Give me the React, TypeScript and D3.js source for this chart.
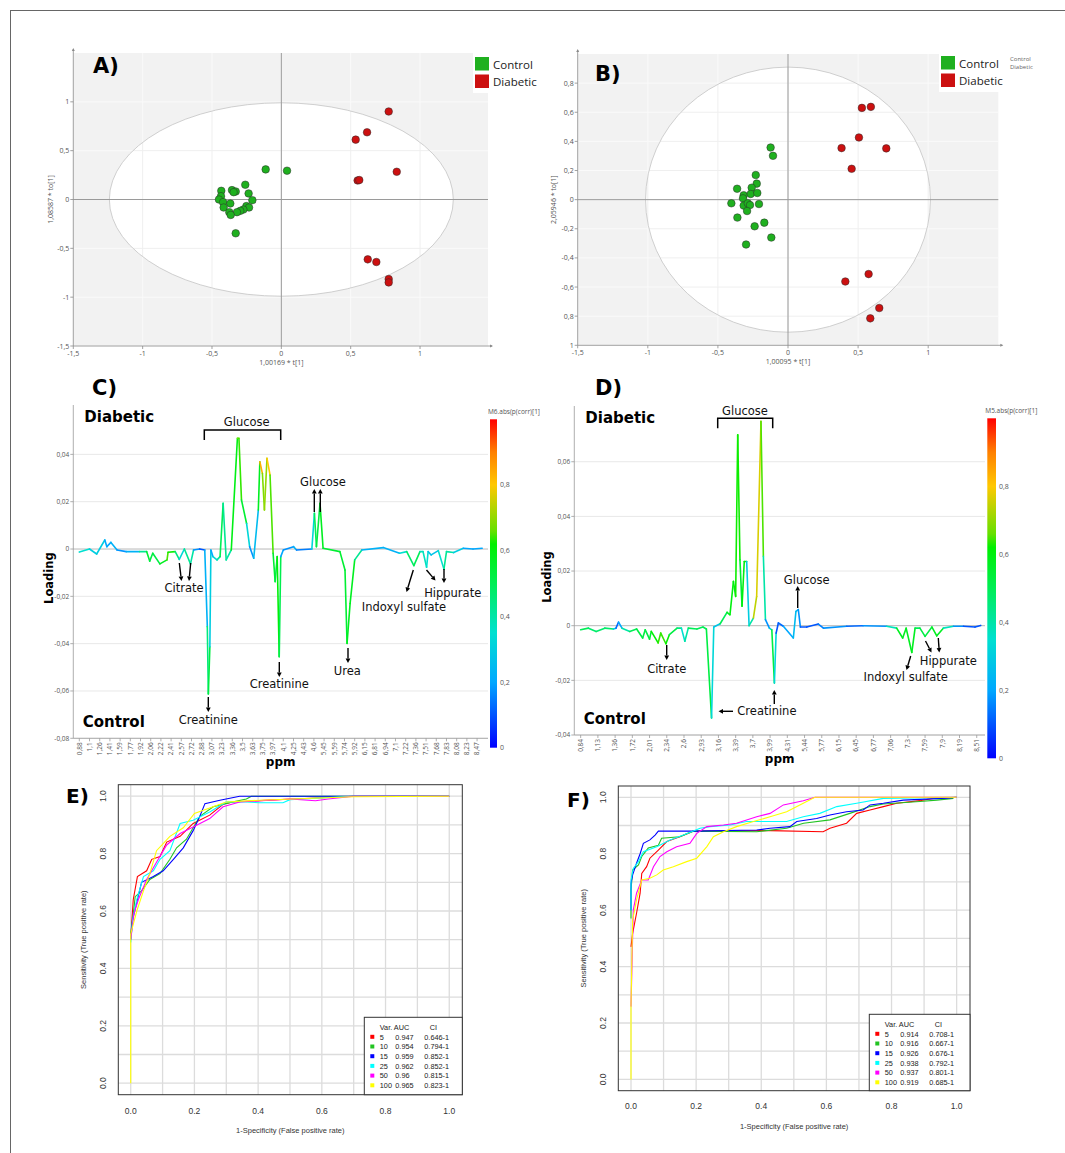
import * as d3 from "d3";

type P = [number, number];
type S = [number, number, number]; // variable index, loading, |p(corr)|

// ---------- data ----------
const groups = ["Control", "Diabetic"];
const groupColors = ["#1fb01f", "#cc1010"];

// OPLS-DA scores, panel A
const scoresA_control: P[] = [
  [-0.113, 0.308], [0.041, 0.295], [-0.26, 0.151], [-0.433, 0.089], [-0.356, 0.096], [-0.329, 0.082],
  [-0.344, 0.075], [-0.236, 0.062], [-0.435, 0.034], [-0.45, 0.0], [-0.209, -0.007], [-0.42, -0.027],
  [-0.368, -0.041], [-0.416, -0.082], [-0.252, -0.068], [-0.233, -0.082], [-0.274, -0.103],
  [-0.296, -0.116], [-0.32, -0.13], [-0.375, -0.13], [-0.365, -0.158], [-0.329, -0.346],
];
const scoresA_diabetic: P[] = [
  [0.774, 0.901], [0.618, 0.688], [0.536, 0.613], [0.832, 0.284], [0.55, 0.195], [0.562, 0.199],
  [0.623, -0.613], [0.685, -0.64], [0.774, -0.815], [0.774, -0.849],
];
// OPLS-DA scores, panel B
const scoresB_control: P[] = [
  [-0.124, 0.358], [-0.107, 0.301], [-0.23, 0.169], [-0.223, 0.11], [-0.363, 0.075], [-0.259, 0.082],
  [-0.316, 0.03], [-0.266, 0.039], [-0.219, 0.046], [-0.321, 0.009], [-0.404, -0.025], [-0.316, -0.041],
  [-0.287, -0.025], [-0.271, -0.037], [-0.207, -0.03], [-0.292, -0.078], [-0.361, -0.123],
  [-0.169, -0.158], [-0.238, -0.183], [-0.119, -0.26], [-0.299, -0.308],
];
const scoresB_diabetic: P[] = [
  [0.527, 0.63], [0.591, 0.637], [0.506, 0.427], [0.382, 0.354], [0.701, 0.352], [0.454, 0.212],
  [0.575, -0.511], [0.409, -0.562], [0.651, -0.744], [0.587, -0.815],
];
const xTicksScore = [-1.5, -1, -0.5, 0, 0.5, 1];
const xTickLabelsScore = ["-1,5", "-1", "-0,5", "0", "0,5", "1"];
const yTicksA = [1, 0.5, 0, -0.5, -1, -1.5];
const yTickLabelsA = ["1", "0,5", "0", "-0,5", "-1", "-1,5"];
const yTicksB = [0.8, 0.6, 0.4, 0.2, 0, -0.2, -0.4, -0.6, -0.8, -1];
const yTickLabelsB = ["0,8", "0,6", "0,4", "0,2", "0", "-0,2", "-0,4", "-0,6", "0,8", "1"];

// loading line plots
const ppmLabelsC = ["0,88", "1,1", "1,26", "1,41", "1,59", "1,77", "1,92", "2,06", "2,22", "2,41", "2,57", "2,72",
  "2,88", "3,07", "3,23", "3,36", "3,5", "3,63", "3,75", "3,97", "4,1", "4,25", "4,43", "4,6", "5,45", "5,59",
  "5,74", "5,92", "6,15", "6,81", "6,94", "7,1", "7,22", "7,36", "7,51", "7,68", "7,83", "8,08", "8,23", "8,47"];
const ppmLabelsD = ["0,84", "1,13", "1,36", "1,72", "2,01", "2,34", "2,6", "2,93", "3,16", "3,39", "3,7", "3,99",
  "4,31", "5,44", "5,77", "6,15", "6,45", "6,77", "7,06", "7,3", "7,59", "7,9", "8,19", "8,51"];
const loadTicksC = [0.04, 0.02, 0, -0.02, -0.04, -0.06, -0.08];
const loadTicksD = [0.06, 0.04, 0.02, 0, -0.02, -0.04];
const corrTicks = [0, 0.2, 0.4, 0.6, 0.8];

const loadingC: S[] = [
  [0, -0.0013, 0.45], [10, 0, 0.25], [17, -0.0021, 0.35], [25, 0.0038, 0.25], [27, 0.001, 0.15], [31, 0.0028, 0.25],
  [37, -0.0004, 0.2], [46, -0.0011, 0.15], [59, -0.0011, 0.3], [66, -0.0011, 0.55], [69, -0.0051, 0.55],
  [72, -0.0018, 0.5], [79, -0.0063, 0.55], [86, -0.0046, 0.6], [87, -0.0014, 0.7], [94, -0.0011, 0.55],
  [98, -0.0044, 0.35], [103, 0, 0.3], [109, -0.0063, 0.55], [112, -0.0004, 0.25], [118, 0, 0.1],
  [123, -0.0004, 0.1], [125.5, -0.0328, 0.35], [126.5, -0.0613, 0.55], [128, -0.0413, 0.5], [129, -0.0004, 0.1],
  [131, -0.0032, 0.3], [135, -0.0046, 0.35], [138, -0.0032, 0.45], [141, 0.0193, 0.55], [144, -0.0046, 0.3],
  [149, -0.0004, 0.5], [155, 0.0468, 0.68], [156.5, 0.0468, 0.68], [159, 0.0207, 0.6], [164, 0.0108, 0.5],
  [167, 0.001, 0.15], [171, -0.0039, 0.2], [175.5, 0.0165, 0.3], [177, 0.0369, 0.85], [179.5, 0.032, 0.82],
  [181.5, 0.0165, 0.55], [184, 0.0383, 0.85], [187, 0.0313, 0.75], [190, -0.0018, 0.55], [192, -0.0138, 0.55],
  [194, -0.0032, 0.5], [196, -0.0455, 0.72], [197.5, -0.0032, 0.3], [200, -0.0004, 0.1], [210, 0.001, 0.25],
  [213, -0.0004, 0.2], [228, 0, 0.1], [230.5, 0.0151, 0.55], [232.5, 0.001, 0.45], [236, 0.0193, 0.6],
  [239, 0.0003, 0.55], [255.5, -0.0011, 0.55], [260.5, -0.0089, 0.55], [262.5, -0.0399, 0.55],
  [265.5, -0.023, 0.6], [270, -0.0046, 0.55], [277, -0.0004, 0.3], [298, 0.0006, 0.15], [314, -0.0018, 0.3],
  [321, -0.0011, 0.4], [328, -0.007, 0.55], [334, -0.0011, 0.45], [337, -0.0011, 0.3], [340.5, -0.0077, 0.45],
  [342, -0.0011, 0.25], [345, -0.0025, 0.3], [352, -0.0007, 0.25], [357.5, -0.0085, 0.45], [360, -0.0011, 0.4],
  [367, -0.0015, 0.4], [376.5, 0.0003, 0.2], [386, 0, 0.2], [395, 0.0003, 0.2],
];
const loadingD: S[] = [
  [0, -0.0015, 0.5], [4.5, -0.0009, 0.5], [9, -0.0021, 0.45], [14, -0.0009, 0.5], [19, -0.0012, 0.45],
  [20.5, -0.0009, 0.15], [22, 0.0013, 0.1], [24, -0.0009, 0.3], [28.5, -0.0021, 0.5], [32.5, -0.0012, 0.5],
  [36, -0.0045, 0.55], [37.5, -0.0015, 0.5], [40, -0.0049, 0.55], [41, -0.0021, 0.55], [45, -0.0063, 0.68],
  [46.5, -0.0027, 0.6], [49.5, -0.0066, 0.68], [51.5, -0.0033, 0.55], [56, -0.0009, 0.5], [58.5, -0.0009, 0.4],
  [60.5, -0.0057, 0.3], [62.5, -0.0009, 0.5], [67.5, -0.0012, 0.5], [71, -0.0005, 0.5], [73, -0.0012, 0.5],
  [76, -0.0338, 0.55], [77.3, -0.0005, 0.1], [81, 0.0007, 0.45], [85, 0.0049, 0.55], [86.7, 0.004, 0.6],
  [88.7, 0.0162, 0.6], [90, 0.0107, 0.6], [91.2, 0.0699, 0.65], [92.5, 0.0241, 0.6], [93.7, 0.0071, 0.5],
  [95, 0.0235, 0.7], [96.4, 0.0235, 0.5], [97.8, 0, 0.1], [100.3, 0.0028, 0.7], [102.2, 0.0107, 0.78],
  [104.7, 0.0748, 0.75], [106.1, 0.0254, 0.55], [107.3, 0.0022, 0.25], [109.6, -0.0009, 0.1],
  [111, -0.0015, 0.5], [112.5, -0.021, 0.55], [113.5, -0.0027, 0.1], [114.8, 0.001, 0.1], [117.7, -0.0002, 0.15],
  [123.5, -0.0045, 0.25], [125, 0.0052, 0.25], [126.4, 0.0059, 0.25], [127.6, -0.0005, 0.1], [131.3, -0.0005, 0.1],
  [138, 0.0006, 0.1], [141, -0.0009, 0.2], [154.5, -0.0002, 0.15], [164, 0, 0.1], [177.7, -0.0002, 0.25],
  [183.5, -0.0009, 0.5], [187, -0.0045, 0.65], [189, -0.0009, 0.5], [192.3, -0.0098, 0.65], [194.2, -0.0009, 0.5],
  [197, -0.0009, 0.5], [200, -0.0039, 0.55], [204, -0.0005, 0.5], [206.8, -0.0037, 0.65], [210.6, -0.0009, 0.5],
  [216.5, -0.0002, 0.25], [222.3, -0.0002, 0.1], [229, -0.0005, 0.1], [232.3, 0.0001, 0.1],
];

// ROC curves (the shared vertical start at fpr 0 is drawn by the last, yellow curve)
const rocVars = ["5", "10", "15", "25", "50", "100"];
const rocColors = ["#ff0000", "#22c322", "#0000ff", "#00ffff", "#ff00ff", "#ffff00"];
const rocTicks = [0, 0.2, 0.4, 0.6, 0.8, 1];
const gridTicks = [0, 0.1, 0.2, 0.3, 0.4, 0.5, 0.6, 0.7, 0.8, 0.9, 1];
const aucE = ["0.947", "0.954", "0.959", "0.962", "0.96", "0.965"];
const ciE = ["0.646-1", "0.794-1", "0.852-1", "0.852-1", "0.815-1", "0.823-1"];
const aucF = ["0.914", "0.916", "0.926", "0.938", "0.937", "0.919"];
const ciF = ["0.708-1", "0.667-1", "0.676-1", "0.792-1", "0.801-1", "0.685-1"];

const rocE5: P[] = [[0, 0.5], [0.003, 0.557], [0.008, 0.64], [0.021, 0.72], [0.05, 0.74], [0.066, 0.78], [0.092, 0.79], [0.113, 0.84], [0.155, 0.86], [0.196, 0.905], [0.248, 0.934], [0.29, 0.972], [0.32, 0.98], [0.51, 0.99], [0.7, 1], [1, 1]];
const rocE10: P[] = [[0, 0.52], [0.008, 0.59], [0.014, 0.65], [0.034, 0.67], [0.06, 0.71], [0.092, 0.73], [0.123, 0.78], [0.144, 0.82], [0.175, 0.85], [0.196, 0.89], [0.217, 0.93], [0.259, 0.963], [0.3, 0.975], [0.363, 0.99], [0.379, 1], [1, 1]];
const rocE15: P[] = [[0, 0.5], [0.006, 0.57], [0.019, 0.63], [0.034, 0.7], [0.071, 0.72], [0.102, 0.74], [0.134, 0.78], [0.165, 0.82], [0.196, 0.88], [0.217, 0.93], [0.233, 0.974], [0.28, 0.986], [0.342, 1], [1, 1]];
const rocE25: P[] = [[0, 0.49], [0.006, 0.57], [0.019, 0.64], [0.04, 0.72], [0.071, 0.74], [0.092, 0.78], [0.123, 0.81], [0.155, 0.905], [0.196, 0.916], [0.248, 0.945], [0.3, 0.98], [0.36, 0.98], [0.405, 0.977], [0.478, 0.977], [0.5, 0.988], [0.7, 1], [1, 1]];
const rocE50: P[] = [[0, 0.5], [0.01, 0.59], [0.024, 0.64], [0.05, 0.71], [0.081, 0.77], [0.113, 0.83], [0.155, 0.87], [0.196, 0.893], [0.248, 0.922], [0.29, 0.963], [0.342, 0.98], [0.5, 0.99], [0.58, 0.984], [0.62, 0.99], [0.7, 1], [1, 1]];
const rocE100: P[] = [[0, 0], [0, 0.52], [0.019, 0.6], [0.04, 0.67], [0.06, 0.73], [0.081, 0.81], [0.123, 0.86], [0.165, 0.89], [0.2, 0.94], [0.25, 0.96], [0.3, 0.98], [0.405, 0.986], [0.7, 0.998], [1, 1]];

const rocF5: P[] = [[0, 0.47], [0.005, 0.518], [0.017, 0.589], [0.028, 0.66], [0.033, 0.73], [0.048, 0.754], [0.058, 0.784], [0.084, 0.813], [0.11, 0.843], [0.15, 0.86], [0.191, 0.88], [0.427, 0.882], [0.59, 0.878], [0.611, 0.89], [0.662, 0.908], [0.693, 0.943], [0.734, 0.955], [0.775, 0.967], [0.816, 0.979], [0.887, 0.988], [0.928, 0.996], [1, 1]];
const rocF10: P[] = [[0, 0.57], [0, 0.67], [0.005, 0.742], [0.023, 0.76], [0.033, 0.79], [0.053, 0.82], [0.084, 0.83], [0.094, 0.855], [0.15, 0.86], [0.191, 0.88], [0.386, 0.878], [0.478, 0.89], [0.53, 0.908], [0.611, 0.92], [0.672, 0.943], [0.734, 0.967], [0.775, 0.976], [0.887, 0.985], [0.939, 0.99], [0.99, 0.996]];
const rocF15: P[] = [[0, 0.6], [0, 0.695], [0.005, 0.725], [0.017, 0.766], [0.028, 0.8], [0.038, 0.837], [0.058, 0.849], [0.074, 0.866], [0.084, 0.88], [0.2, 0.88], [0.386, 0.884], [0.427, 0.89], [0.488, 0.896], [0.509, 0.914], [0.57, 0.925], [0.611, 0.937], [0.662, 0.949], [0.713, 0.955], [0.734, 0.973], [0.775, 0.979], [0.836, 0.99], [0.97, 0.997], [1, 1]];
const rocF25: P[] = [[0, 0.6], [0, 0.707], [0.007, 0.748], [0.023, 0.772], [0.038, 0.807], [0.079, 0.825], [0.12, 0.849], [0.161, 0.866], [0.212, 0.89], [0.243, 0.896], [0.304, 0.902], [0.355, 0.914], [0.478, 0.914], [0.529, 0.931], [0.58, 0.943], [0.632, 0.967], [0.693, 0.979], [0.775, 0.996], [1, 1]];
const rocF50: P[] = [[0, 0.258], [0.002, 0.352], [0.007, 0.6], [0.017, 0.66], [0.033, 0.707], [0.053, 0.707], [0.069, 0.754], [0.089, 0.79], [0.11, 0.807], [0.14, 0.825], [0.181, 0.837], [0.202, 0.872], [0.233, 0.896], [0.284, 0.902], [0.324, 0.908], [0.386, 0.931], [0.427, 0.943], [0.468, 0.973], [0.529, 0.988], [0.565, 1], [1, 1]];
const rocF100: P[] = [[0, 0], [0, 0.26], [0.005, 0.565], [0.017, 0.636], [0.033, 0.707], [0.058, 0.713], [0.079, 0.725], [0.099, 0.742], [0.13, 0.754], [0.171, 0.772], [0.202, 0.784], [0.233, 0.825], [0.253, 0.86], [0.284, 0.878], [0.324, 0.896], [0.376, 0.914], [0.427, 0.931], [0.478, 0.949], [0.529, 0.979], [0.565, 1], [1, 1]];

// ---------- styling helpers ----------
const verdana = "'DejaVu Sans', Verdana, sans-serif";
const segoe = "'Open Sans', 'Noto Sans', sans-serif";
const arial = "'Liberation Sans', Arial, sans-serif";

const corrStops = [0, 0.2, 0.35, 0.5, 0.62, 0.66, 0.8, 0.9, 1];
const corrStopColors = ["#0000ff", "#00a8ff", "#00e0d0", "#00ee55", "#00f000", "#66e000", "#ffc800", "#ff8000", "#ff0000"];
const corrColor = d3.scaleLinear<string>().domain(corrStops).range(corrStopColors).clamp(true);

// ---------- score plots ----------
function ScorePlot(props: any) {
  const { id, box, xDomain, yDomain, yTicks, yLabels, ell, control, diabetic, xTitle, yTitle, yTitleX, label, labelXY, legend } = props;
  const x = d3.scaleLinear().domain(xDomain).range([box.left, box.right]);
  const y = d3.scaleLinear().domain(yDomain).range([box.bottom, box.top]);
  const cx = x(0), cy = y(0);
  const rx = x(ell[0]) - x(0), ry = y(0) - y(ell[1]);
  const grid = (stroke: string) => (
    <g stroke={stroke} strokeWidth={1}>
      {xTicksScore.map((t) => <line key={"x" + t} x1={x(t)} x2={x(t)} y1={box.top} y2={box.bottom} />)}
      {yTicks.map((t: number) => <line key={"y" + t} x1={box.left} x2={box.right} y1={y(t)} y2={y(t)} />)}
    </g>
  );
  return (
    <g>
      <defs>
        <clipPath id={id + "-ell"}><ellipse cx={cx} cy={cy} rx={rx} ry={ry} /></clipPath>
      </defs>
      <rect x={box.left} y={box.top} width={box.right - box.left} height={box.bottom - box.top} fill="#f2f2f2" />
      {grid("#fafafa")}
      <ellipse cx={cx} cy={cy} rx={rx} ry={ry} fill="#ffffff" />
      <g clipPath={`url(#${id}-ell)`}>{grid("#efefef")}</g>
      <ellipse cx={cx} cy={cy} rx={rx} ry={ry} fill="none" stroke="#c4c4c4" strokeWidth={0.8} />
      {/* zero lines */}
      <line x1={cx} x2={cx} y1={box.top} y2={box.bottom} stroke="#9a9a9a" strokeWidth={1} />
      <line x1={box.left} x2={box.right} y1={cy} y2={cy} stroke="#9a9a9a" strokeWidth={1} />
      {/* axes */}
      <g stroke="#8a8a8a" strokeWidth={0.8}>
        <line x1={box.left} x2={box.left} y1={box.top - 4} y2={box.bottom} />
        <line x1={box.left} x2={box.right + 4} y1={box.bottom} y2={box.bottom} />
        {yTicks.map((t: number) => <line key={t} x1={box.left - 3} x2={box.left} y1={y(t)} y2={y(t)} />)}
        {xTicksScore.map((t) => <line key={t} x1={x(t)} x2={x(t)} y1={box.bottom} y2={box.bottom + 3} />)}
      </g>
      <path d={`M${box.left - 1.5},${box.top - 2} L${box.left},${box.top - 5} L${box.left + 1.5},${box.top - 2}Z`} fill="#8a8a8a" />
      <path d={`M${box.right + 2},${box.bottom - 1.5} L${box.right + 5},${box.bottom} L${box.right + 2},${box.bottom + 1.5}Z`} fill="#8a8a8a" />
      <g fontFamily={segoe} fontSize={7} fill="#555">
        {yTicks.map((t: number, i: number) => (
          <text key={t} x={box.left - 4} y={y(t) + 2.5} textAnchor="end">{yLabels[i]}</text>
        ))}
        {xTicksScore.map((t, i) => (
          <text key={t} x={x(t)} y={box.bottom + 10} textAnchor="middle">{xTickLabelsScore[i]}</text>
        ))}
        <text x={cx} y={box.bottom + 19} textAnchor="middle">{xTitle}</text>
        <text transform={`translate(${yTitleX},${cy}) rotate(-90)`} textAnchor="middle">{yTitle}</text>
      </g>
      {/* points */}
      {[control, diabetic].map((pts: P[], g: number) => (
        <g key={g}>
          {pts.map((p, i) => (
            <circle key={i} cx={x(p[0])} cy={y(p[1])} r={3.8} fill={groupColors[g]} stroke="#2a2a2a" strokeWidth={0.5} />
          ))}
        </g>
      ))}
      {/* legend */}
      <rect x={legend.x - 2} y={legend.y - 4} width={legend.w} height={40} fill="#ffffff" />
      {groups.map((gname, g) => (
        <g key={gname}>
          <rect x={legend.x} y={legend.y + g * 17.5} width={14} height={13.5} fill={groupColors[g]} />
          <text x={legend.x + 18} y={legend.y + 11.5 + g * 17.5} fontFamily={segoe} fontSize={11.5} fill="#222">{gname}</text>
        </g>
      ))}
      <text x={labelXY[0]} y={labelXY[1]} fontFamily={verdana} fontWeight="bold" fontSize={21} fill="#000">{label}</text>
    </g>
  );
}

// ---------- loading plots ----------
function LoadingPlot(props: any) {
  const { id, box, xDomain, yDomain, yTicks, ppmLabels, data, cb, cbTitle, label, labelXY, loadingX, children } = props;
  const x = d3.scaleLinear().domain(xDomain).range([box.left, box.right]);
  const y = d3.scaleLinear().domain(yDomain).range([box.bottom, box.top]);
  const c = d3.scaleLinear().domain([0, 1]).range([cb.bottom, cb.top]);
  const fmt = (v: number) => String(+v.toFixed(3)).replace(".", ",");
  const segs = d3.pairs(data as S[]);
  return (
    <g>
      <defs>
        <linearGradient id={id + "-grad"} x1="0" y1="1" x2="0" y2="0">
          {corrStops.map((s, i) => <stop key={i} offset={s} stopColor={corrStopColors[i]} />)}
        </linearGradient>
      </defs>
      <g strokeWidth={1}>
        {yTicks.map((t: number) => <line key={t} x1={box.left} x2={box.right} y1={y(t)} y2={y(t)} stroke={t === 0 ? "#b8b8b8" : "#e8e8e8"} />)}
      </g>
      <g stroke="#9a9a9a" strokeWidth={0.8}>
        <line x1={box.left} x2={box.left} y1={box.top - 3} y2={box.bottom} />
        <line x1={box.left} x2={box.right} y1={box.bottom} y2={box.bottom} />
        {yTicks.map((t: number) => <line key={t} x1={box.left - 3} x2={box.left} y1={y(t)} y2={y(t)} />)}
        {ppmLabels.map((_: string, i: number) => <line key={i} x1={x(i * 10)} x2={x(i * 10)} y1={box.bottom} y2={box.bottom + 3} />)}
      </g>
      <g fontFamily={segoe} fontSize={6.5} fill="#555">
        {yTicks.map((t: number) => <text key={t} x={box.left - 4} y={y(t) + 2.3} textAnchor="end">{fmt(t)}</text>)}
        {ppmLabels.map((s: string, i: number) => (
          <text key={i} transform={`translate(${x(i * 10) + 2.3},${box.bottom + 4}) rotate(-90)`} textAnchor="end">{s}</text>
        ))}
      </g>
      {segs.map(([a, b], i) => (
        <line key={i} x1={x(a[0])} y1={y(a[1])} x2={x(b[0])} y2={y(b[1])}
          stroke={corrColor((a[2] + b[2]) / 2)} strokeWidth={1.6} strokeLinecap="round" />
      ))}
      {/* colour bar */}
      <rect x={cb.x} y={cb.top} width={cb.w} height={cb.bottom - cb.top} fill={`url(#${id}-grad)`} />
      <g fontFamily={segoe} fontSize={7} fill="#555">
        {corrTicks.map((t) => <text key={t} x={cb.x + cb.w + 3} y={c(t) + 2.5}>{fmt(t)}</text>)}
        <text x={cb.x - 2} y={cb.top - 5} fontSize={6.5}>{cbTitle}</text>
      </g>
      <text x={labelXY[0]} y={labelXY[1]} fontFamily={verdana} fontWeight="bold" fontSize={21}>{label}</text>
      <g fontFamily={verdana} fontWeight="bold" fill="#000">
        <text x={box.left + 11} y={box.top + 14} fontSize={15}>Diabetic</text>
        <text x={box.left + 9.5} y={box.bottom - 11} fontSize={15}>Control</text>
        <text x={(box.left + box.right) / 2} y={box.bottom + 28} fontSize={12} textAnchor="middle">ppm</text>
        <text transform={`translate(${loadingX},${(box.top + box.bottom) / 2 + 5}) rotate(-90)`} fontSize={11.5} textAnchor="middle">Loading</text>
      </g>
      <g fontFamily={verdana} fontSize={11.5} fill="#111" stroke="none">{children}</g>
    </g>
  );
}

function Arrow({ x1, y1, x2, y2 }: { x1: number; y1: number; x2: number; y2: number }) {
  const ang = Math.atan2(y2 - y1, x2 - x1);
  const L = 4.5, W = 2.4;
  const bx = x2 - L * Math.cos(ang), by = y2 - L * Math.sin(ang);
  const px = -Math.sin(ang) * W, py = Math.cos(ang) * W;
  return (
    <g>
      <line x1={x1} y1={y1} x2={bx} y2={by} stroke="#000" strokeWidth={1.4} />
      <path d={`M${x2},${y2} L${bx + px},${by + py} L${bx - px},${by - py}Z`} fill="#000" />
    </g>
  );
}

function Bracket({ x1, x2, y, h }: { x1: number; x2: number; y: number; h: number }) {
  return <path d={`M${x1},${y + h} V${y} H${x2} V${y + h}`} fill="none" stroke="#000" strokeWidth={1.5} />;
}

// ---------- ROC plots ----------
function RocPlot(props: any) {
  const { box, curves, auc, ci, label, labelXY, yLabX, yTitleX, xLabY, xTitleY, legendBox } = props;
  const x = d3.scaleLinear().domain([-0.039, 1.041]).range([box.left, box.right]);
  const y = d3.scaleLinear().domain([-0.04, 1.04]).range([box.bottom, box.top]);
  const line = d3.line<P>().x((d) => x(d[0])).y((d) => y(d[1]));
  const lb = legendBox;
  return (
    <g>
      <g stroke="#dcdcdc" strokeWidth={1.3}>
        {gridTicks.map((t) => <line key={"v" + t} x1={x(t)} x2={x(t)} y1={box.top} y2={box.bottom} />)}
        {gridTicks.map((t) => <line key={"h" + t} x1={box.left} x2={box.right} y1={y(t)} y2={y(t)} />)}
      </g>
      {curves.map((cv: P[], i: number) => (
        <path key={i} d={line(cv) || ""} fill="none" stroke={rocColors[i]} strokeWidth={1.1} />
      ))}
      <rect x={box.left} y={box.top} width={box.right - box.left} height={box.bottom - box.top} fill="none" stroke="#333" strokeWidth={1} />
      <g fontFamily={arial} fontSize={8.5} fill="#333">
        {rocTicks.map((t) => <text key={t} x={x(t)} y={xLabY} textAnchor="middle">{t.toFixed(1)}</text>)}
        {rocTicks.map((t) => (
          <text key={"y" + t} transform={`translate(${yLabX},${y(t)}) rotate(-90)`} textAnchor="middle">{t.toFixed(1)}</text>
        ))}
      </g>
      <g fontFamily={arial} fontSize={7.5} fill="#333">
        <text x={(box.left + box.right) / 2} y={xTitleY} textAnchor="middle">1-Specificity (False positive rate)</text>
        <text transform={`translate(${yTitleX},${(y(0) + y(1)) / 2}) rotate(-90)`} textAnchor="middle">Sensitivity (True positive rate)</text>
      </g>
      {/* legend */}
      <rect x={lb.x} y={lb.y} width={box.right - lb.x} height={box.bottom - lb.y} fill="#fff" stroke="#333" strokeWidth={1} />
      <g fontFamily={arial} fontSize={7.3} fill="#222">
        <text x={lb.x + 15.5} y={lb.y + 12.5}>Var. AUC</text>
        <text x={lb.x + 65.5} y={lb.y + 12.5}>CI</text>
        {rocVars.map((v, i) => (
          <g key={v}>
            <rect x={lb.x + 6} y={lb.y + 17.5 + i * 9.7} width={4} height={4} fill={rocColors[i]} />
            <text x={lb.x + 15.5} y={lb.y + 22.2 + i * 9.7}>{v}</text>
            <text x={lb.x + 31} y={lb.y + 22.2 + i * 9.7}>{auc[i]}</text>
            <text x={lb.x + 60} y={lb.y + 22.2 + i * 9.7}>{ci[i]}</text>
          </g>
        ))}
      </g>
      <text x={labelXY[0]} y={labelXY[1]} fontFamily={verdana} fontWeight="bold" fontSize={20}>{label}</text>
    </g>
  );
}

export default function App() {
  return (
    <div style={{ position: "absolute", left: 0, top: 0 }}>
      <svg width={1065} height={1153} style={{ display: "block", background: "#fff" }}>
        <rect x={10.5} y={10.5} width={1070} height={1160} fill="none" stroke="#666" strokeWidth={1} />

        <ScorePlot id="A" box={{ left: 73.3, right: 488, top: 53, bottom: 346 }} xDomain={[-1.5, 1.49]} yDomain={[-1.5, 1.5]}
          yTicks={yTicksA} yLabels={yTickLabelsA} ell={[1.24, 0.99]} control={scoresA_control} diabetic={scoresA_diabetic}
          xTitle="1,00169 * t[1]" yTitle="1,08587 * to[1]" yTitleX={53} label="A)" labelXY={[93, 73]}
          legend={{ x: 475, y: 57, w: 66 }} />
        <ScorePlot id="B" box={{ left: 577.7, right: 998.3, top: 54, bottom: 345.3 }} xDomain={[-1.5, 1.5]} yDomain={[-1, 1]}
          yTicks={yTicksB} yLabels={yTickLabelsB} ell={[1.016, 0.91]} control={scoresB_control} diabetic={scoresB_diabetic}
          xTitle="1,00095 * t[1]" yTitle="2,05946 * to[1]" yTitleX={556} label="B)" labelXY={[595, 81]}
          legend={{ x: 941, y: 56, w: 62 }} />
        <g fontFamily={segoe} fontSize={6} fill="#666">
          <text x={1010} y={61}>Control</text>
          <text x={1010} y={69}>Diabetic</text>
        </g>

        <LoadingPlot id="C" box={{ left: 73.3, right: 488, top: 408, bottom: 738.3 }} xDomain={[-5.9, 400.7]}
          yDomain={[-0.08, 0.0596]} yTicks={loadTicksC} ppmLabels={ppmLabelsC} data={loadingC}
          cb={{ x: 490, w: 7, top: 419.3, bottom: 747.7 }} cbTitle="M6.abs(p(corr)[1]" label="C)" labelXY={[92, 395]} loadingX={53}>
          <Bracket x1={204.3} x2={280.7} y={430} h={10} />
          <text x={246.7} y={426} textAnchor="middle">Glucose</text>
          <text x={323} y={486} textAnchor="middle">Glucose</text>
          <Arrow x1={314.3} y1={512} x2={314.3} y2={489} />
          <Arrow x1={320.3} y1={512} x2={320.3} y2={489} />
          <Arrow x1={179.3} y1={563} x2={181.5} y2={581} />
          <Arrow x1={190.7} y1={563} x2={189} y2={581} />
          <text x={184} y={592} textAnchor="middle">Citrate</text>
          <Arrow x1={208.3} y1={697} x2={208.3} y2={712} />
          <text x={208.3} y={723.5} textAnchor="middle">Creatinine</text>
          <Arrow x1={279.3} y1={662} x2={279.3} y2={677} />
          <text x={279.3} y={688} textAnchor="middle">Creatinine</text>
          <Arrow x1={348} y1={648} x2={348} y2={663} />
          <text x={347.3} y={675} textAnchor="middle">Urea</text>
          <Arrow x1={413.3} y1={570} x2={406.5} y2={592} />
          <Arrow x1={426.5} y1={570} x2={435.5} y2={580.5} />
          <Arrow x1={444} y1={569} x2={444} y2={583} />
          <text x={452.7} y={597} textAnchor="middle">Hippurate</text>
          <text x={404} y={611} textAnchor="middle">Indoxyl sulfate</text>
        </LoadingPlot>

        <LoadingPlot id="D" box={{ left: 574.3, right: 985, top: 409, bottom: 735 }} xDomain={[-3.7, 234.8]}
          yDomain={[-0.04, 0.0793]} yTicks={loadTicksD} ppmLabels={ppmLabelsD} data={loadingD}
          cb={{ x: 987.3, w: 8.7, top: 418.3, bottom: 758.3 }} cbTitle="M5.abs(p(corr)[1]" label="D)" labelXY={[595, 395]} loadingX={551}>
          <Bracket x1={717.7} x2={772.7} y={418.3} h={10} />
          <text x={745} y={414.5} textAnchor="middle">Glucose</text>
          <text x={806.7} y={583.5} textAnchor="middle">Glucose</text>
          <Arrow x1={797.7} y1={608} x2={797.7} y2={586} />
          <Arrow x1={666.7} y1={645} x2={666.7} y2={660} />
          <text x={666.7} y={673} textAnchor="middle">Citrate</text>
          <Arrow x1={733} y1={711.3} x2={718.5} y2={711.3} />
          <text x={737.3} y={715}>Creatinine</text>
          <Arrow x1={774.3} y1={704} x2={774.3} y2={690} />
          <Arrow x1={925.5} y1={641} x2={931.5} y2={652.5} />
          <Arrow x1={938.3} y1={638} x2={939.3} y2={652.5} />
          <text x={948.3} y={665} textAnchor="middle">Hippurate</text>
          <Arrow x1={910.7} y1={656} x2={906.5} y2={670} />
          <text x={905.7} y={681} textAnchor="middle">Indoxyl sulfate</text>
        </LoadingPlot>

        <RocPlot box={{ left: 118.3, right: 462.3, top: 784.7, bottom: 1094.7 }}
          curves={[rocE5, rocE10, rocE15, rocE25, rocE50, rocE100]} auc={aucE} ci={ciE}
          label="E)" labelXY={[66, 803]} yLabX={106} yTitleX={86} xLabY={1113.5} xTitleY={1133}
          legendBox={{ x: 364.3, y: 1017.3 }} />
        <RocPlot box={{ left: 618.3, right: 970, top: 786, bottom: 1090.7 }}
          curves={[rocF5, rocF10, rocF15, rocF25, rocF50, rocF100]} auc={aucF} ci={ciF}
          label="F)" labelXY={[567, 807]} yLabX={606} yTitleX={586} xLabY={1108.5} xTitleY={1128.5}
          legendBox={{ x: 869.3, y: 1014.3 }} />
      </svg>
    </div>
  );
}
